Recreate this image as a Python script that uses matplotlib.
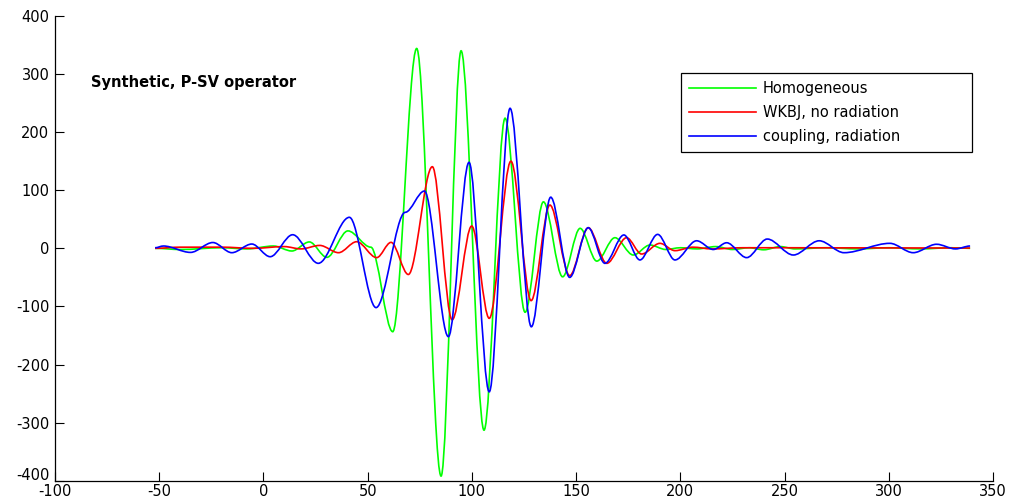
import matplotlib
matplotlib.use("Agg")
import matplotlib.pyplot as plt
import matplotlib.transforms as mtransforms
from matplotlib.path import Path
from matplotlib.patches import PathPatch
from matplotlib.lines import Line2D

# turning points of each trace (time, amplitude)
homog_t = [-52, -40, -20, -8, 4.8, 13.6, 22, 30.4, 40.5, 51.5, 62, 73.5, 85.2, 94.8,
           105.8, 115.9, 125.5, 134.3, 143.5, 151.9, 159.9, 168.6, 177.4, 185.4, 193,
           200, 208, 217, 225, 233, 240, 248, 255, 270, 285, 300, 315, 330, 339]
homog_a = [0, -2, 1, -1, 4, -4.6, 11, -15.5, 30, 2, -143.5, 344, -392, 340,
           -313, 224, -110, 80, -49, 34.4, -22, 18.3, -11.5, 5.7, -2,
           1, -1, 3, -2, 1, -2.5, 3, -1, 1, -1, 1, -1, 1, 0]

wkbj_t = [-52, -40, -20, -5, 10, 18, 27, 36, 44.7, 54.3, 61.2, 69.5, 81, 90.5,
          99.9, 108.3, 118.7, 128.4, 137.4, 146.9, 155.8, 164.7, 174.2, 181.4,
          190.2, 197.4, 206, 215, 230, 250, 339]
wkbj_a = [0, 2, 2, 0, 3, -1, 5, -7.5, 11.4, -16, 10.3, -45, 140.5, -123,
          38.4, -120.5, 150, -90, 74.5, -47, 35.5, -25.8, 18.3, -9.8,
          8.6, -4, 2, -1, 1, 1, 0.5]

coupl_t = [-52, -48, -35, -24.3, -15.2, -5.6, 3.2, 14, 26.3, 41.2, 54, 68, 77.2,
           88.7, 98.6, 108.3, 118.3, 128.5, 137.8, 146.9, 155.8, 163.8, 172.9,
           180.6, 189.1, 197.4, 207.8, 215.8, 222.2, 231.8, 241.7, 254.2, 266.6,
           278.5, 300.5, 311.7, 322.9, 332, 339]
coupl_a = [1, 4, -7, 10, -7.5, 7.4, -14.4, 23.4, -25.8, 53.4, -102, 62, 98.6,
           -152, 148, -247, 241, -135, 88, -50, 35.5, -25.8, 23,
           -20, 24, -20, 13, -2, 9.6, -16, 16, -11.5, 13,
           -7.5, 8.6, -7.5, 7, -1, 4]

labels = ["Homogeneous", "WKBJ, no radiation", "coupling, radiation"]
colors = ["#00ff00", "#ff0000", "#0000ff"]

plt.rcParams["axes.unicode_minus"] = False
plt.rcParams["font.family"] = "DejaVu Sans"

fig = plt.figure(figsize=(10.1, 5.03), dpi=100)
ax = fig.add_axes([0.0545, 0.0443, 0.9287, 0.924])


def smooth_trace(ax, ts, amps, color):
    # smooth curve through the turning points (flat tangent at each one)
    verts = [(ts[0], amps[0])]
    codes = [Path.MOVETO]
    for i in range(1, len(ts)):
        t0, a0 = ts[i - 1], amps[i - 1]
        t1, a1 = ts[i], amps[i]
        dt = t1 - t0
        verts += [(t0 + dt / 3.0, a0), (t1 - dt / 3.0, a1), (t1, a1)]
        codes += [Path.CURVE4] * 3
    patch = PathPatch(Path(verts, codes), facecolor="none", edgecolor=color,
                      lw=1.2, transform=ax.transData)
    ax.add_patch(patch)


smooth_trace(ax, homog_t, homog_a, colors[0])
smooth_trace(ax, wkbj_t, wkbj_a, colors[1])
smooth_trace(ax, coupl_t, coupl_a, colors[2])

ax.set_xlim(-100, 350)
ax.set_ylim(-400, 400)
ax.set_xticks(range(-100, 351, 50))
ax.set_yticks(range(-400, 401, 100))
ax.tick_params(direction="in", length=6.3, width=0.8, labelsize=10.5)
ax.tick_params(axis="x", pad=2.5)
ax.tick_params(axis="y", pad=4)
ax.spines["top"].set_visible(False)
ax.spines["right"].set_visible(False)
for s in ("left", "bottom"):
    ax.spines[s].set_linewidth(0.9)

# lift the lowest y label a little so it clears the first x label
fig.canvas.draw()
low = ax.get_yticklabels()[0]
low.set_transform(low.get_transform() +
                  mtransforms.ScaledTranslation(0, 5 / 72, fig.dpi_scale_trans))

ax.text(-82.7, 285.7, "Synthetic, P-SV operator", fontsize=10.5, fontweight="bold",
        ha="left", va="center")

handles = [Line2D([], [], color=c, lw=1.2) for c in colors]
leg = ax.legend(handles, labels, loc="upper left",
                bbox_to_anchor=(0.6674, 0.7138, 0.3102, 0.1642), mode="expand",
                borderaxespad=0, fontsize=10.5, handlelength=4.6,
                handletextpad=0.45, borderpad=0.55, labelspacing=0.62,
                fancybox=False, framealpha=1)
leg.get_frame().set_edgecolor("black")
leg.get_frame().set_linewidth(0.9)

fig.savefig("out.png", dpi=100)
